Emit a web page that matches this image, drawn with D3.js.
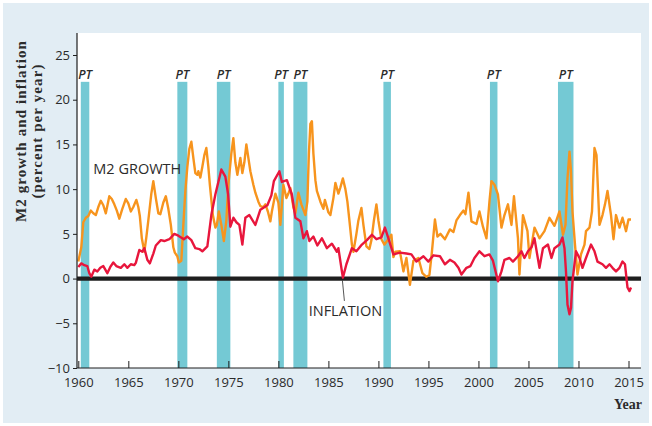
<!DOCTYPE html>
<html>
<head>
<meta charset="utf-8">
<script src="https://cdn.jsdelivr.net/npm/d3@7"></script>
<style>
    body { margin: 0; background: #ffffff; }
    svg { display: block; }
</style>
</head>
<body>
<div id="chart"></div>
<script>
// recession periods (PT = peak to trough), start and end year
const recessions = [
    [1960.25, 1961.1], [1969.9, 1970.9], [1973.85, 1975.2], [1980.0, 1980.55],
    [1981.5, 1982.9], [1990.5, 1991.25], [2001.15, 2001.9], [2007.95, 2009.5]
]

const xTicks = [1960, 1965, 1970, 1975, 1980, 1985, 1990, 1995, 2000, 2005, 2010, 2015]
const yTicks = [-10, -5, 0, 5, 10, 15, 20, 25]

// M2 growth, percent per year  [year, value]
const m2Growth = [
    [1960.0, 1.9], [1960.3, 3.5], [1960.5, 6.3], [1960.75, 6.8], [1961.0, 7.0], [1961.25, 7.6],
    [1961.5, 7.3], [1961.75, 7.1], [1962.0, 8.0], [1962.25, 8.7], [1962.5, 8.2], [1962.75, 7.3],
    [1963.1, 9.2], [1963.35, 8.9], [1963.6, 8.3], [1963.85, 7.6], [1964.1, 6.7], [1964.4, 7.8],
    [1964.75, 8.9], [1965.0, 8.4], [1965.25, 7.5], [1965.5, 8.0], [1965.8, 8.8], [1966.0, 8.0],
    [1966.15, 7.0], [1966.35, 4.5], [1966.6, 3.0], [1966.8, 4.6], [1967.0, 6.5], [1967.3, 9.5],
    [1967.5, 10.9], [1967.75, 9.0], [1968.0, 7.3], [1968.2, 7.2], [1968.5, 8.5], [1968.75, 9.2],
    [1969.0, 7.8], [1969.25, 6.0], [1969.5, 3.5], [1969.65, 2.9], [1969.9, 2.5], [1970.05, 1.8],
    [1970.3, 2.0], [1970.5, 6.0], [1970.7, 9.8], [1970.9, 12.5], [1971.1, 14.5], [1971.3, 15.3],
    [1971.5, 13.5], [1971.7, 11.8], [1971.9, 11.6], [1972.0, 12.0], [1972.2, 11.3], [1972.4, 12.5],
    [1972.6, 13.8], [1972.8, 14.6], [1973.0, 12.5], [1973.15, 10.5], [1973.45, 7.1], [1973.7, 5.7],
    [1973.85, 6.0], [1974.05, 7.5], [1974.3, 6.0], [1974.55, 4.2], [1974.8, 6.5], [1975.0, 10.5],
    [1975.3, 14.0], [1975.5, 15.7], [1975.7, 13.0], [1975.9, 11.6], [1976.2, 13.5], [1976.4, 11.8],
    [1976.6, 13.0], [1976.8, 15.0], [1977.0, 13.5], [1977.2, 12.0], [1977.5, 10.5], [1977.7, 9.6],
    [1978.0, 8.6], [1978.2, 8.1], [1978.5, 8.0], [1978.7, 8.3], [1978.95, 7.5], [1979.2, 6.4],
    [1979.35, 7.5], [1979.7, 9.5], [1980.0, 8.5], [1980.2, 6.0], [1980.5, 10.5], [1980.8, 9.0],
    [1981.0, 9.5], [1981.2, 10.1], [1981.5, 8.0], [1981.7, 7.3], [1982.0, 9.6], [1982.3, 8.3],
    [1982.7, 7.1], [1982.9, 8.6], [1983.05, 14.0], [1983.2, 17.3], [1983.35, 17.6], [1983.5, 14.0],
    [1983.7, 11.0], [1983.85, 9.8], [1984.2, 8.6], [1984.5, 7.8], [1984.65, 8.8], [1985.0, 7.4],
    [1985.2, 7.1], [1985.5, 9.0], [1985.7, 10.7], [1986.0, 9.5], [1986.2, 10.2], [1986.45, 11.2],
    [1986.7, 10.0], [1986.9, 8.6], [1987.1, 6.5], [1987.35, 3.8], [1987.5, 3.0], [1987.8, 5.0],
    [1988.0, 6.5], [1988.3, 7.9], [1988.5, 6.0], [1988.8, 3.6], [1989.1, 3.3], [1989.3, 4.3],
    [1989.55, 6.5], [1989.8, 8.3], [1990.0, 6.5], [1990.3, 4.4], [1990.6, 3.8], [1991.0, 4.4],
    [1991.3, 4.9], [1991.5, 2.4], [1991.7, 3.0], [1992.15, 3.05], [1992.5, 0.8], [1992.8, 2.3],
    [1993.15, -0.7], [1993.5, 2.0], [1994.0, 2.3], [1994.4, 0.6], [1994.8, 0.2], [1995.1, 0.4],
    [1995.35, 3.0], [1995.65, 6.6], [1995.9, 4.7], [1996.2, 5.0], [1996.65, 4.4], [1997.15, 5.5],
    [1997.5, 5.2], [1997.8, 6.5], [1998.15, 7.1], [1998.5, 7.6], [1998.7, 7.2], [1999.0, 9.6],
    [1999.3, 6.4], [1999.8, 6.1], [2000.1, 7.5], [2000.45, 5.8], [2000.8, 4.5], [2001.1, 8.6],
    [2001.3, 10.9], [2001.6, 10.5], [2001.95, 9.4], [2002.3, 5.7], [2002.6, 7.1], [2002.95, 8.3],
    [2003.3, 6.0], [2003.55, 9.2], [2003.95, 4.5], [2004.1, 0.45], [2004.45, 7.1], [2004.9, 5.3],
    [2005.1, 2.3], [2005.6, 5.7], [2006.1, 4.5], [2006.6, 5.3], [2007.1, 6.8], [2007.6, 5.9],
    [2008.1, 7.5], [2008.45, 4.9], [2008.7, 6.0], [2008.9, 11.2], [2009.1, 14.2], [2009.25, 12.0],
    [2009.4, 7.5], [2009.65, 3.8], [2009.9, 0.45], [2010.25, 2.7], [2010.6, 3.8], [2010.75, 5.3],
    [2011.1, 5.7], [2011.35, 7.5], [2011.6, 14.6], [2011.8, 13.8], [2012.1, 6.0], [2012.4, 7.1],
    [2012.65, 8.3], [2012.9, 9.8], [2013.25, 7.1], [2013.5, 4.4], [2013.75, 7.1], [2014.1, 5.7],
    [2014.4, 6.8], [2014.75, 5.3], [2015.0, 6.6], [2015.25, 6.6]
]

// inflation rate, percent per year  [year, value]
const inflation = [
    [1960.0, 1.3], [1960.3, 1.7], [1960.6, 1.5], [1960.9, 1.4], [1961.1, 0.6], [1961.3, 0.2],
    [1961.6, 1.0], [1961.9, 0.8], [1962.2, 1.2], [1962.5, 1.4], [1962.9, 0.6], [1963.2, 1.3],
    [1963.5, 1.8], [1963.8, 1.4], [1964.25, 1.2], [1964.6, 1.6], [1964.9, 1.2], [1965.25, 1.6],
    [1965.6, 1.5], [1965.75, 1.75], [1966.1, 3.2], [1966.4, 3.0], [1966.6, 3.4], [1966.9, 2.1],
    [1967.15, 1.7], [1967.5, 2.8], [1967.75, 3.7], [1968.25, 4.3], [1968.6, 4.2], [1969.1, 4.4],
    [1969.6, 5.0], [1970.0, 4.8], [1970.55, 4.4], [1970.9, 4.7], [1971.3, 4.3], [1971.7, 3.4],
    [1972.1, 3.3], [1972.4, 3.05], [1972.9, 3.6], [1973.3, 7.1], [1973.7, 9.4], [1974.0, 10.8],
    [1974.3, 12.2], [1974.5, 11.8], [1974.7, 11.4], [1974.98, 9.4], [1975.2, 5.8], [1975.5, 6.8],
    [1975.8, 6.3], [1976.1, 6.0], [1976.4, 3.8], [1976.7, 6.8], [1977.1, 7.1], [1977.7, 6.0],
    [1978.2, 7.7], [1978.9, 8.2], [1979.3, 9.3], [1979.55, 10.9], [1980.1, 12.0], [1980.35, 10.8],
    [1980.85, 11.0], [1981.35, 9.4], [1981.7, 6.8], [1982.2, 6.4], [1982.5, 4.5], [1982.85, 5.3],
    [1983.1, 4.2], [1983.5, 4.7], [1983.9, 3.7], [1984.35, 4.5], [1984.85, 3.4], [1985.35, 3.9],
    [1985.85, 3.0], [1986.0, 3.4], [1986.35, 0.8], [1986.45, 0.1], [1986.8, 1.6], [1987.35, 3.4],
    [1987.8, 3.05], [1988.35, 3.8], [1988.85, 4.3], [1989.35, 4.9], [1989.8, 4.4], [1990.3, 4.6],
    [1990.65, 5.7], [1991.0, 4.5], [1991.5, 2.7], [1992.15, 2.9], [1992.8, 2.8], [1993.3, 2.7],
    [1993.8, 1.9], [1994.5, 2.5], [1995.0, 1.9], [1995.5, 2.6], [1996.15, 2.5], [1996.65, 1.6],
    [1997.15, 2.1], [1997.6, 1.8], [1998.0, 1.2], [1998.3, 0.45], [1998.8, 1.2], [1999.2, 1.4],
    [1999.6, 2.3], [2000.1, 3.05], [2000.6, 2.5], [2001.1, 2.7], [2001.45, 2.0], [2001.95, -0.3],
    [2002.3, 0.8], [2002.6, 2.1], [2003.1, 2.3], [2003.45, 1.9], [2003.95, 2.5], [2004.3, 3.05],
    [2004.6, 2.3], [2004.95, 3.05], [2005.3, 3.5], [2005.6, 4.5], [2006.1, 1.2], [2006.45, 3.4],
    [2006.95, 3.8], [2007.3, 2.3], [2007.6, 3.4], [2008.1, 3.8], [2008.4, 4.6], [2008.6, 3.4],
    [2008.75, 0.8], [2008.9, -2.9], [2009.1, -4.0], [2009.25, -3.3], [2009.4, -0.3], [2009.6, 1.6],
    [2009.75, 3.05], [2010.1, 2.3], [2010.4, 1.2], [2010.75, 2.3], [2011.25, 3.8], [2011.6, 3.05],
    [2011.9, 1.9], [2012.4, 1.6], [2012.75, 1.2], [2013.1, 1.6], [2013.4, 1.2], [2013.75, 0.8],
    [2014.1, 1.2], [2014.4, 1.9], [2014.65, 1.6], [2014.9, -1.0], [2015.1, -1.4], [2015.25, -1.0]
]

const width = 652
const height = 426
const plotLeft = 77, plotRight = 641, plotTop = 33, plotBottom = 368
const barTop = 22

const svg = d3.select("#chart")
    .append("svg")
    .attr("width", width)
    .attr("height", height)

// outer panel
svg.append("rect")
    .attr("x", 3).attr("y", 3)
    .attr("width", width - 6).attr("height", height - 6)
    .attr("fill", "#e2edf4")

// white plot area
svg.append("rect")
    .attr("x", plotLeft).attr("y", plotTop)
    .attr("width", plotRight - plotLeft).attr("height", plotBottom - plotTop)
    .attr("fill", "#ffffff")

const x = d3.scaleLinear().domain([1960, 2015]).range([78.3, 628.5])
const y = d3.scaleLinear().domain([-10, 25]).range([plotBottom, 55])

// recession bars
svg.append("g")
    .selectAll("rect")
    .data(recessions)
    .enter()
    .append("rect")
    .attr("x", d => x(d[0]))
    .attr("width", d => x(d[1]) - x(d[0]))
    .attr("y", y(barTop))
    .attr("height", y(-10) - y(barTop))
    .attr("fill", "#74c9d4")

svg.append("g")
    .selectAll("text")
    .data(recessions)
    .enter()
    .append("text")
    .attr("x", d => (x(d[0]) + x(d[1])) / 2)
    .attr("y", y(barTop) - 3)
    .attr("text-anchor", "middle")
    .style("font-family", "'Open Sans', sans-serif")
    .style("font-style", "italic")
    .style("font-weight", "600")
    .style("font-size", "12.5px")
    .style("fill", "#2b2b2b")
    .text("PT")

// zero line
svg.append("line")
    .attr("x1", plotLeft).attr("x2", plotRight)
    .attr("y1", y(0)).attr("y2", y(0))
    .attr("stroke", "#1e1e1e")
    .attr("stroke-width", 4.2)

const line = d3.line()
    .x(d => x(d[0]))
    .y(d => y(d[1]))
    .curve(d3.curveLinear)

svg.append("path")
    .datum(m2Growth)
    .attr("fill", "none")
    .attr("stroke", "#f7941d")
    .attr("stroke-width", 2.4)
    .attr("stroke-linejoin", "round")
    .attr("d", line)

svg.append("path")
    .datum(inflation)
    .attr("fill", "none")
    .attr("stroke", "#e8163c")
    .attr("stroke-width", 2.4)
    .attr("stroke-linejoin", "round")
    .attr("d", line)

// axes
const xAxis = d3.axisBottom(x)
    .tickValues(xTicks)
    .tickFormat(d3.format("d"))
    .tickSize(-7)
    .tickPadding(10)
const gx = svg.append("g")
    .attr("transform", "translate(0," + plotBottom + ")")
    .call(xAxis)
gx.select(".domain").attr("d", "M" + plotLeft + ",0H" + plotRight)

const yAxis = d3.axisLeft(y)
    .tickValues(yTicks)
    .tickFormat(d => d < 0 ? "\u2212" + Math.abs(d) : d)
    .tickSize(4)
    .tickPadding(3)
const gy = svg.append("g")
    .attr("transform", "translate(" + plotLeft + ",0)")
    .call(yAxis)
gy.select(".domain").attr("d", "M0," + plotTop + "V" + plotBottom)

svg.selectAll(".domain").attr("stroke", "#1e1e1e").attr("stroke-width", 1.2)
svg.selectAll(".tick line").attr("stroke", "#1e1e1e")
svg.selectAll(".tick text")
    .style("font-family", "'Open Sans', sans-serif")
    .style("font-size", "13px")
    .style("fill", "#2b2b2b")

// axis titles
const yTitle = svg.append("text")
    .attr("transform", "translate(22,131) rotate(-90)")
    .attr("text-anchor", "middle")
    .style("font-family", "'Liberation Serif', serif")
    .style("font-weight", "bold")
    .style("font-size", "15px")
    .style("letter-spacing", "1.1px")
    .style("fill", "#2b2b2b")
yTitle.append("tspan").attr("x", 0).attr("y", 4).text("M2 growth and inflation")
yTitle.append("tspan").attr("x", 0).attr("y", 20).text("(percent per year)")

svg.append("text")
    .attr("x", 642)
    .attr("y", 409)
    .attr("text-anchor", "end")
    .style("font-family", "'Liberation Serif', serif")
    .style("font-weight", "bold")
    .style("font-size", "14px")
    .style("fill", "#2b2b2b")
    .text("Year")

// series labels
svg.append("text")
    .attr("x", x(1961.5))
    .attr("y", y(11.7))
    .style("font-family", "'Open Sans', sans-serif")
    .style("font-size", "14.5px")
    .style("fill", "#2b2b2b")
    .text("M2 GROWTH")

svg.append("line")
    .attr("x1", x(1986.4)).attr("y1", y(-0.2))
    .attr("x2", x(1986.6)).attr("y2", y(-2.5))
    .attr("stroke", "#2b2b2b")
    .attr("stroke-width", 0.8)

svg.append("text")
    .attr("x", x(1986.7))
    .attr("y", y(-4.2))
    .attr("text-anchor", "middle")
    .style("font-family", "'Open Sans', sans-serif")
    .style("font-size", "14.5px")
    .style("fill", "#2b2b2b")
    .text("INFLATION")
</script>
</body>
</html>
